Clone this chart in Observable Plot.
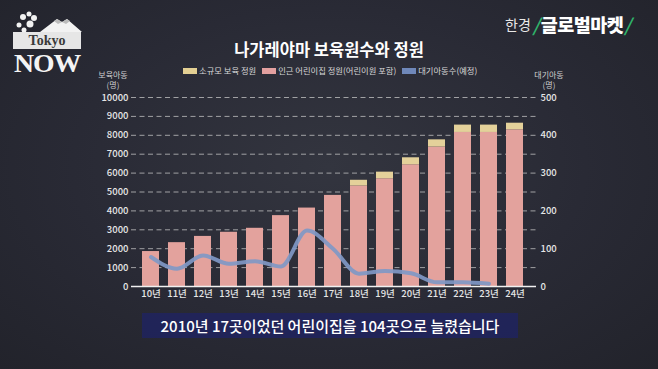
<!DOCTYPE html>
<html>
<head>
<meta charset="utf-8">
<script src="https://cdn.jsdelivr.net/npm/d3@7"></script>
<script src="https://cdn.jsdelivr.net/npm/@observablehq/plot@0.6"></script>
<style>
  html, body { margin: 0; padding: 0; }
  body {
    width: 658px; height: 369px; overflow: hidden; position: relative;
    background: radial-gradient(ellipse at 50% 45%, #33353f 0%, #292a35 55%, #22232b 100%);
    font-family: "Noto Sans CJK KR", "Noto Sans", sans-serif;
  }
  #chart { position: absolute; left: 0; top: 0; }
  .abs { position: absolute; white-space: nowrap; }
  .title { left: 0; width: 658px; top: 37px; text-align: center; color: #fff; font-size: 16.5px; font-weight: 700; line-height: 24px; }
  .legend { top: 64px; left: 183px; font-size: 8.3px; color: #d8d8d8; line-height: 13px; display: flex; align-items: center; }
  .legend span.sw { display: inline-block; width: 14px; height: 6px; margin-right: 2px; }
  .legend span.item { margin-right: 6px; }
  .axtitle { font-size: 8px; color: #d0d0d0; text-align: center; line-height: 10px; }
  .subtitle { left: 142px; top: 313px; width: 376px; height: 25px; background: rgba(32,35,92,0.9); color: #fff; font-size: 15px; font-weight: 500; text-align: center; line-height: 25px; }
  .brand { top: 10px; left: 505px; color: #fff; display: flex; align-items: center; line-height: 28px; }
</style>
</head>
<body>
<div id="chart"></div>

<!-- Tokyo NOW logo -->
<svg class="abs" style="left:10px;top:8px" width="80" height="74" viewBox="0 0 80 74">
  <polygon points="30,24 47,11 52,14 57,11 72,24" fill="#f2f2f2"/>
  <polygon points="44,13 47,11 52,14 57,11 60,13 56,16 52,14 48,16" fill="#bbb"/>
  <g fill="#f2f2f2">
    <circle cx="13" cy="9" r="3"/><circle cx="19" cy="6" r="2.5"/><circle cx="24" cy="10" r="3"/>
    <circle cx="9" cy="17" r="2.5"/><circle cx="20" cy="16" r="3.5"/><circle cx="14" cy="22" r="2.5"/>
  </g>
  <rect x="3" y="24" width="68" height="17" fill="#e6e6e6"/>
  <text x="37" y="37" text-anchor="middle" font-family="'Liberation Serif', 'DejaVu Serif', serif" font-weight="700" font-size="14" fill="#3a3a3a">Tokyo</text>
  <text x="37" y="64" text-anchor="middle" font-family="'Liberation Serif', 'DejaVu Serif', serif" font-weight="700" font-size="25" fill="#f4f4f4" letter-spacing="-1" textLength="66" lengthAdjust="spacingAndGlyphs">NOW</text>
</svg>

<!-- brand -->
<div class="abs brand">
  <span style="font-size:14px;color:#e8e8e8;">한경</span>
  <span style="font-size:18px;color:#2fb36a;font-weight:700;margin:0 1px 0 2px;font-style:italic;">/</span>
  <span style="font-size:18.5px;font-weight:800;letter-spacing:-0.5px;">글로벌마켓</span>
  <span style="font-size:18px;color:#2fb36a;font-weight:700;margin-left:1px;font-style:italic;">/</span>
</div>

<div class="abs title">나가레야마 보육원수와 정원</div>

<div class="abs legend">
  <span class="sw" style="background:#e3cf93"></span><span class="item">소규모 보육 정원</span>
  <span class="sw" style="background:#e3a0a0"></span><span class="item">인근 어린이집 정원(어린이원 포함)</span>
  <span class="sw" style="background:#6f88ba"></span><span class="item">대기아동수(예정)</span>
</div>

<div class="abs axtitle" style="left:93px;top:70px;width:40px;">보육아동<br>(명)</div>
<div class="abs axtitle" style="left:529px;top:70px;width:40px;">대기아동<br>(명)</div>

<div class="abs subtitle">2010년 17곳이었던 어린이집을 104곳으로 늘렸습니다</div>

<script>
// ---- data ----
const years = ["10년","11년","12년","13년","14년","15년","16년","17년","18년","19년","20년","21년","22년","23년","24년"];
const nearbyCapacity = [1850, 2320, 2650, 2870, 3080, 3750, 4150, 4820, 5320, 5700, 6440, 7380, 8150, 8150, 8290];
const smallCapacity  = [0, 0, 0, 0, 0, 0, 0, 0, 300, 350, 370, 380, 390, 390, 350];
const waitingKids    = [78, 47, 82, 60, 67, 53, 148, 100, 34, 41, 35, 11, 11, 7, null];
const leftTicks  = [0, 1000, 2000, 3000, 4000, 5000, 6000, 7000, 8000, 9000, 10000];
const rightTicks = [0, 100, 200, 300, 400, 500];
const seriesNames = ["인근 어린이집 정원(어린이원 포함)", "소규모 보육 정원"];
const seriesColors = ["#e3a29d", "#e4d19a"];

const RATIO = 10000 / 500; // right axis -> left axis

const barRows = [];
years.forEach((y, i) => barRows.push({year: y, series: seriesNames[0], value: nearbyCapacity[i]}));
years.forEach((y, i) => barRows.push({year: y, series: seriesNames[1], value: smallCapacity[i]}));
const lineRows = years.map((y, i) => ({year: y, w: waitingKids[i] == null ? NaN : waitingKids[i] * RATIO}))
  .filter(d => !isNaN(d.w));

const chart = Plot.plot({
  width: 658,
  height: 369,
  marginLeft: 131,
  marginRight: 122,
  marginTop: 97,
  marginBottom: 83,
  style: { background: "transparent", fontFamily: "'Noto Sans CJK KR', 'Noto Sans', sans-serif", color: "#dcdcdc" },
  x: { domain: years, range: [137.7, 526.7], paddingInner: 0.36, paddingOuter: 0 },
  y: { domain: [0, 10000] },
  color: { domain: seriesNames, range: seriesColors },
  marks: [
    Plot.ruleY(leftTicks.filter(t => t > 0), { stroke: "#c8c8c8", strokeOpacity: 0.75, strokeDasharray: "5,3.5", strokeWidth: 1 }),
    Plot.barY(barRows, { x: "year", y: "value", fill: "series" }),
    Plot.ruleY([0], { stroke: "#f0f0f0", strokeWidth: 1.6 }),
    Plot.line(lineRows, { x: "year", y: "w", stroke: "#8098c6", strokeWidth: 4, strokeOpacity: 0.92, curve: "monotone-x" }),
    Plot.axisY({ ticks: leftTicks, tickSize: 0, tickPadding: 3, label: null, fontSize: 9.5, fontWeight: 500, fill: "#e6e6e6", tickFormat: d => String(d) }),
    Plot.axisY({ anchor: "right", ticks: rightTicks.map(v => v * RATIO), tickSize: 0, tickPadding: 4, label: null, fontSize: 9.5, fontWeight: 500, fill: "#e6e6e6", tickFormat: d => String(d / RATIO) }),
    Plot.axisX({ tickSize: 0, tickPadding: 4, label: null, fontSize: 9.5, fontWeight: 500, fill: "#e6e6e6" })
  ]
});
document.getElementById("chart").appendChild(chart);
</script>
</body>
</html>
